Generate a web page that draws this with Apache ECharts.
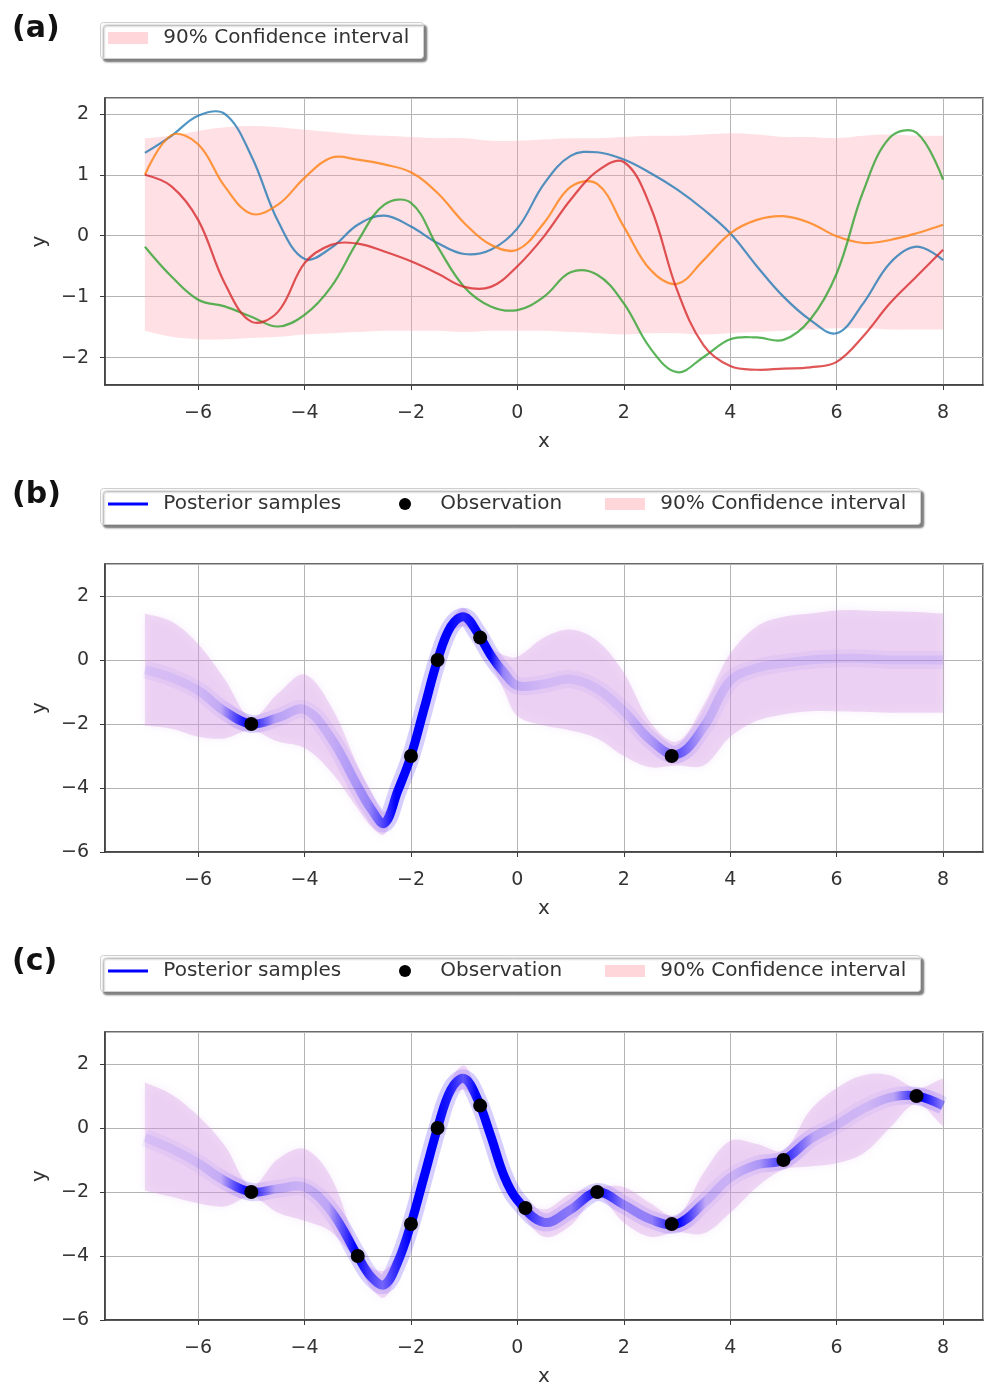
<!DOCTYPE html>
<html><head><meta charset="utf-8">
<script src="https://cdn.jsdelivr.net/npm/echarts@6/dist/echarts.min.js"></script>
<style>html,body{margin:0;padding:0;background:#fff}#c{width:985px;height:1388px}</style>
</head><body><div id="c"></div>
<script>
// ---------- Panel (a): prior samples ----------
const xsA = [-7,-6.5,-6,-5.5,-5,-4.5,-4,-3.5,-3,-2.5,-2,-1.5,-1,-0.5,0,0.5,1,1.5,2,2.5,3,3.5,4,4.5,5,5.5,6,6.5,7,7.5,8];
const priorBlue   = [1.36,1.64,1.97,2.0,1.31,0.24,-0.38,-0.2,0.18,0.33,0.15,-0.12,-0.3,-0.23,0.12,0.85,1.31,1.37,1.25,1.03,0.76,0.43,0.04,-0.5,-1.0,-1.38,-1.6,-1.11,-0.45,-0.18,-0.4];
const priorOrange = [1.0,1.65,1.5,0.81,0.36,0.51,0.95,1.28,1.25,1.17,1.04,0.7,0.21,-0.15,-0.23,0.21,0.8,0.85,0.15,-0.56,-0.79,-0.4,0.04,0.26,0.32,0.21,-0.01,-0.12,-0.07,0.04,0.18];
const priorGreen  = [-0.18,-0.67,-1.05,-1.16,-1.33,-1.49,-1.3,-0.84,-0.09,0.51,0.54,-0.18,-0.84,-1.16,-1.22,-1.0,-0.6,-0.64,-1.11,-1.85,-2.24,-1.99,-1.7,-1.67,-1.71,-1.38,-0.62,0.73,1.61,1.69,0.92];
const priorRed    = [1.0,0.81,0.26,-0.78,-1.41,-1.25,-0.45,-0.15,-0.13,-0.26,-0.42,-0.62,-0.84,-0.84,-0.5,-0.01,0.59,1.06,1.21,0.48,-0.89,-1.8,-2.14,-2.2,-2.18,-2.16,-2.07,-1.65,-1.11,-0.67,-0.23];
const ciHiA = [1.6,1.64,1.72,1.78,1.8,1.78,1.74,1.7,1.66,1.64,1.62,1.6,1.6,1.56,1.56,1.58,1.6,1.6,1.62,1.64,1.64,1.66,1.68,1.66,1.62,1.62,1.6,1.64,1.66,1.64,1.64];
const ciLoA = [-1.56,-1.66,-1.7,-1.7,-1.68,-1.66,-1.62,-1.6,-1.58,-1.56,-1.56,-1.56,-1.58,-1.56,-1.56,-1.56,-1.58,-1.6,-1.62,-1.6,-1.6,-1.62,-1.6,-1.58,-1.56,-1.54,-1.52,-1.52,-1.54,-1.54,-1.54];

// ---------- Panels (b) and (c): posterior ----------
const xsP = [-7,-6.5,-6,-5.5,-5,-4.5,-4,-3.5,-3,-2.75,-2.5,-2.25,-2,-1.75,-1.5,-1.25,-1,-0.75,-0.5,-0.25,0,0.5,1,1.5,2,2.5,3,3.5,4,4.5,5,5.5,6,6.5,7,7.5,8];
const meanB = [-0.3,-0.55,-0.95,-1.6,-2.0,-1.8,-1.55,-2.45,-3.95,-4.65,-5.1,-4.1,-3.0,-1.5,0.0,1.05,1.35,0.85,0.15,-0.4,-0.8,-0.75,-0.6,-0.9,-1.6,-2.5,-2.95,-2.1,-0.65,-0.25,-0.1,0.0,0.05,0.05,0.0,0.0,0.0];
const loB   = [-2.05,-2.15,-2.4,-2.45,-2.2,-2.55,-2.75,-3.5,-4.65,-5.2,-5.45,-4.35,-3.1,-1.62,-0.1,0.85,1.05,0.7,-0.1,-0.95,-1.75,-2.05,-2.2,-2.45,-3.0,-3.35,-3.3,-3.3,-2.4,-1.9,-1.7,-1.6,-1.6,-1.62,-1.65,-1.65,-1.65];
const hiB   = [1.45,1.2,0.5,-0.6,-1.8,-1.05,-0.45,-1.45,-3.3,-4.1,-4.75,-3.85,-2.9,-1.38,0.1,1.25,1.62,1.0,0.4,0.15,0.1,0.7,0.95,0.6,-0.4,-1.95,-2.55,-1.4,0.2,1.05,1.35,1.45,1.55,1.55,1.52,1.5,1.45];
const obsXB = [-5,-2,-1.5,-0.7,2.9];
const obsYB = [-2,-3,0,0.7,-3];

const meanC = [-0.3,-0.65,-1.1,-1.65,-2.0,-1.9,-1.85,-2.6,-4.0,-4.65,-4.9,-4.2,-3.0,-1.5,0.0,1.2,1.55,0.9,-0.25,-1.5,-2.25,-2.95,-2.55,-2.0,-2.4,-2.85,-3.0,-2.35,-1.55,-1.15,-1.0,-0.35,0.1,0.6,0.95,1.0,0.7];
const loC   = [-1.95,-2.15,-2.35,-2.45,-2.15,-2.65,-2.9,-3.25,-4.25,-5.0,-5.3,-4.5,-3.12,-1.65,-0.1,0.95,1.2,0.72,-0.45,-1.7,-2.45,-3.4,-3.05,-2.15,-2.95,-3.4,-3.25,-3.3,-2.65,-1.85,-1.3,-1.2,-1.1,-0.8,0.0,0.75,0.05];
const hiC   = [1.42,1.05,0.38,-0.55,-1.82,-0.97,-0.65,-1.55,-3.75,-4.35,-4.45,-3.9,-2.88,-1.35,0.1,1.5,1.95,1.1,-0.05,-1.3,-2.05,-2.55,-2.05,-1.85,-1.85,-2.35,-2.75,-1.4,-0.4,-0.5,-0.7,0.55,1.25,1.65,1.65,1.25,1.55];
const obsXC = [-5,-3,-2,-1.5,-0.7,0.15,1.5,2.9,5,7.5];
const obsYC = [-2,-4,-3,0,0.7,-2.5,-2,-3,-1,1];

// ---------- styling helpers ----------
const FONT = 'DejaVu Sans';
const TXT = '#333333';
const minusFmt = v => (v < 0 ? '\u2212' + Math.abs(v) : String(v));

function makeGrid(top, height) {
  return {left: 105, right: 2, top: top, height: height, show: true,
          borderColor: '#3a3a3a', borderWidth: 1.5, backgroundColor: 'transparent'};
}
function makeX(gi) {
  return {type: 'value', gridIndex: gi, min: -7.75, max: 8.75, splitNumber: 8,
    name: 'x', nameLocation: 'middle', nameGap: 47,
    nameTextStyle: {fontSize: 20, color: TXT, fontFamily: FONT},
    axisLine: {show: true, onZero: false, lineStyle: {color: '#3a3a3a', width: 1.5}},
    axisTick: {show: true, length: 5, lineStyle: {color: '#3a3a3a', width: 1}},
    axisLabel: {fontSize: 19, color: TXT, margin: 19, fontFamily: FONT,
      showMinLabel: false, showMaxLabel: false, formatter: minusFmt},
    splitLine: {show: true, lineStyle: {color: '#b4b4b4', width: 1}}};
}
function makeY(gi, min, max, interval) {
  const ax = {type: 'value', gridIndex: gi, min: min, max: max,
    name: 'y', nameLocation: 'middle', nameGap: 52, nameRotate: 90,
    nameTextStyle: {fontSize: 20, color: TXT, fontFamily: FONT},
    axisLine: {show: true, onZero: false, lineStyle: {color: '#3a3a3a', width: 1.5}},
    axisTick: {show: true, length: 5, lineStyle: {color: '#3a3a3a', width: 1}},
    axisLabel: {fontSize: 19, color: TXT, margin: 16, fontFamily: FONT,
      showMinLabel: interval ? true : false, showMaxLabel: false, formatter: minusFmt},
    splitLine: {show: true, lineStyle: {color: '#b4b4b4', width: 1}}};
  if (interval) ax.interval = interval; else ax.splitNumber = 5;
  return ax;
}

// Filled band between lo and hi (smoothed polygon in data coordinates)
function bandSeries(gi, xs, lo, hi, fill, soft) {
  return {
    name: '90% Confidence interval', type: 'custom', xAxisIndex: gi, yAxisIndex: gi,
    silent: true, z: 1, itemStyle: {color: '#ffd6da'},
    data: [[xs[0], lo[0]]], encode: {x: 0, y: 1},
    renderItem: function (params, api) {
      const top = xs.map((x, i) => api.coord([x, hi[i]]));
      const bot = xs.map((x, i) => api.coord([x, lo[i]])).reverse();
      const n = top.length;
      const pts = [top[0]].concat(top, [top[n - 1], bot[0]], bot, [bot[n - 1]]);
      const style = {fill: fill};
      if (soft) { style.shadowBlur = 10; style.shadowColor = soft; }
      return {type: 'polygon', shape: {points: pts, smooth: 0.35}, style: style};
    }
  };
}
// Smooth curve through (xs, ys) in data coordinates
function curveSeries(name, gi, xs, ys, style, z) {
  return {
    name: name, type: 'custom', xAxisIndex: gi, yAxisIndex: gi, silent: true, z: z,
    itemStyle: {color: typeof style.stroke === 'string' ? style.stroke : '#0000ff'},
    data: [[xs[0], ys[0]]], encode: {x: 0, y: 1},
    renderItem: function (params, api) {
      const pts = xs.map((x, i) => api.coord([x, ys[i]]));
      return {type: 'polyline', shape: {points: pts, smooth: 0.38},
              style: Object.assign({fill: null, lineJoin: 'round', lineCap: 'butt'}, style)};
    }
  };
}
function alphaGradient(xs, lo, hi, fn, rgb) {
  const x0 = xs[0], x1 = xs[xs.length - 1];
  const stops = xs.map((x, i) => ({offset: (x - x0) / (x1 - x0),
    color: 'rgba(' + rgb + ',' + fn(hi[i] - lo[i]).toFixed(3) + ')'}));
  return new echarts.graphic.LinearGradient(0, 0, 1, 0, stops);
}
function posteriorSeries(gi, xs, mean, lo, hi) {
  const glow = alphaGradient(xs, lo, hi, w => Math.min(0.22, Math.max(0.05, 0.12 / w)), '70,40,255');
  const core = alphaGradient(xs, lo, hi, w => Math.max(0.04, Math.min(1, Math.pow(0.5 / w, 1.5))), '0,0,255');
  return [
    curveSeries('Posterior samples', gi, xs, mean, {stroke: glow, lineWidth: 18}, 2),
    curveSeries('Posterior samples', gi, xs, mean, {stroke: core, lineWidth: 9}, 3)
  ];
}
function obsSeries(gi, xs, ys) {
  return {name: 'Observation', type: 'scatter', xAxisIndex: gi, yAxisIndex: gi,
    symbol: 'circle', symbolSize: 14, silent: true, z: 4,
    itemStyle: {color: '#000000', opacity: 1}, data: xs.map((x, i) => [x, ys[i]])};
}

// ---------- legends: framed box + one legend item per slot ----------
const ciLegendItem = {name: '90% Confidence interval', icon: 'rect', itemStyle: {color: '#ffd6da', borderWidth: 0}};
const postLegendItem = {name: 'Posterior samples', icon: 'path://M0,0H40V3H0Z', itemStyle: {color: '#0000ff', borderWidth: 0}};
const obsLegendItem = {name: 'Observation', icon: 'circle', itemStyle: {color: '#000000', borderWidth: 0}};
function legendItem(left, top, item) {
  return {left: left, top: top, orient: 'horizontal', selectedMode: false,
    itemWidth: 40, itemHeight: 12, padding: 0, backgroundColor: 'transparent', borderWidth: 0,
    formatter: ' \u2009{name}', textStyle: {fontSize: 20, color: TXT, fontFamily: FONT},
    data: [item]};
}
function legendFrame(x, y, w, h) {
  return {type: 'rect', left: x, top: y, silent: true, z: -1,
    shape: {width: w, height: h, r: 3},
    style: {fill: '#ffffff', stroke: '#cfcfcf', lineWidth: 1,
            shadowColor: 'rgba(0,0,0,0.5)', shadowBlur: 2, shadowOffsetX: 3, shadowOffsetY: 3}};
}
function panelLabel(text, top) {
  return {type: 'text', left: 12, top: top, silent: true,
    style: {text: text, font: 'bold 30px "DejaVu Sans"', fill: '#111'}};
}

const chart = echarts.init(document.getElementById('c'), null, {renderer: 'canvas'});
chart.setOption({
  animation: false,
  backgroundColor: '#ffffff',
  textStyle: {fontFamily: FONT},
  graphic: [
    panelLabel('(a)', 14), panelLabel('(b)', 480), panelLabel('(c)', 947),
    legendFrame(100, 22, 323, 36), legendFrame(100, 488, 820, 36), legendFrame(100, 955, 820, 36)
  ],
  legend: [
    legendItem(108, 28, ciLegendItem),
    legendItem(108, 494, postLegendItem), legendItem(399, 494, obsLegendItem), legendItem(605, 494, ciLegendItem),
    legendItem(108, 961, postLegendItem), legendItem(399, 961, obsLegendItem), legendItem(605, 961, ciLegendItem)
  ],
  grid: [makeGrid(98, 287), makeGrid(564, 288), makeGrid(1032, 288)],
  xAxis: [makeX(0), makeX(1), makeX(2)],
  yAxis: [makeY(0, -2.45, 2.26, null), makeY(1, -6, 3, 2), makeY(2, -6, 3, 2)],
  series: [
    bandSeries(0, xsA, ciLoA, ciHiA, 'rgba(255,160,172,0.32)', null),
    curveSeries('Prior sample 1', 0, xsA, priorBlue,   {stroke: '#1f77b4', lineWidth: 2.2, opacity: 0.78}, 2),
    curveSeries('Prior sample 2', 0, xsA, priorOrange, {stroke: '#ff7f0e', lineWidth: 2.2, opacity: 0.78}, 2),
    curveSeries('Prior sample 3', 0, xsA, priorGreen,  {stroke: '#2ca02c', lineWidth: 2.2, opacity: 0.78}, 2),
    curveSeries('Prior sample 4', 0, xsA, priorRed,    {stroke: '#d62728', lineWidth: 2.2, opacity: 0.78}, 2),
    bandSeries(1, xsP, loB, hiB, 'rgba(215,150,225,0.34)', 'rgba(200,150,235,0.45)'),
    ...posteriorSeries(1, xsP, meanB, loB, hiB),
    obsSeries(1, obsXB, obsYB),
    bandSeries(2, xsP, loC, hiC, 'rgba(215,150,225,0.34)', 'rgba(200,150,235,0.45)'),
    ...posteriorSeries(2, xsP, meanC, loC, hiC),
    obsSeries(2, obsXC, obsYC)
  ]
});
</script></body></html>
